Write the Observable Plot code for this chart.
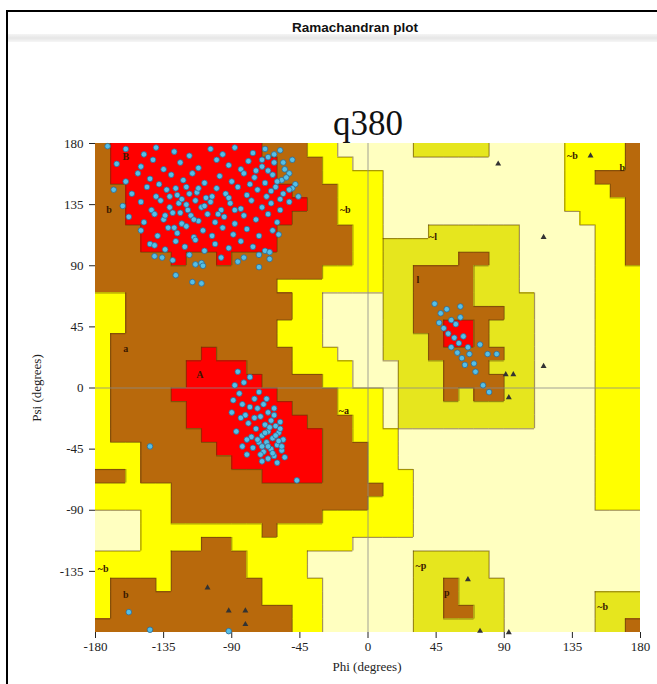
<!DOCTYPE html>
<html><head><meta charset="utf-8">
<script src="https://cdn.jsdelivr.net/npm/d3@7"></script>
<script src="https://cdn.jsdelivr.net/npm/@observablehq/plot@0.6"></script>
<style>
body{margin:0;background:#fff;}
#wrap{position:relative;width:657px;height:684px;overflow:hidden;font-family:"Liberation Serif","Times New Roman",serif;}
#wrap svg{position:absolute;left:0;top:0;}
.ln{position:absolute;background:#000;}
.band{position:absolute;left:8px;right:0;top:34px;height:8px;background:linear-gradient(#f4f4f4,#e6e6e6,#f6f6f6);}
.t{position:absolute;transform:translate(-50%,-50%);white-space:nowrap;}
</style></head>
<body><div id="wrap">
<div class="band"></div>
<div class="ln" style="left:6px;top:10px;width:2px;height:674px"></div>
<div class="ln" style="left:6px;top:10px;width:651px;height:2px"></div>
<div class="t" style="left:355px;top:27px;font:bold 13.5px 'Liberation Sans',Arial,sans-serif;color:#111">Ramachandran plot</div>
<div class="t" style="left:368px;top:124px;font-size:35px;color:#111">q380</div>
<div class="t" style="left:367px;top:667px;font-size:13px;color:#222">Phi (degrees)</div>
<div class="t" style="left:37px;top:388px;font-size:13px;color:#222;transform:translate(-50%,-50%) rotate(-90deg)">Psi (degrees)</div>
</div>
<script>
const phiTicks = [-180,-135,-90,-45,0,45,90,135,180];
const psiTicks = [-135,-90,-45,0,45,90,135,180];
const regionKeys = ["R","B","Y","G","L"];
const regionColors = ["#ff0000","#b8690c","#ffff00","#e6e61e","#ffffc0"];
// 36 rows (psi 180 -> -180), 36 columns (phi -180 -> 180), 10 degree cells
const regionRows = [
"BRRRRRRRRRRBBBYYLLLLLGGGGGLLLLLYYYYB",
"BRRRRRRRRRRRBBBYYLLLLLLLLLLLLLLYYYYB",
"BRRRRRRRRRRRBBBYYYYLLLLLLLLLLLLYYBBB",
"BBRRRRRRRRRRRBBBYYYLLLLLLLLLLLLYYYBB",
"BBRRRRRRRRRRRRBBYYYLLLLLLLLLLLLYYYYB",
"BBRRRRRRRRRRRBBBYYYLLLLLLLLLLLLLYYYB",
"BBBRRRRRRRRRBBBBBYYLLLGGGGGGLLLLLYYB",
"BBBRRRRRRRRRBBBBBYYGGGGGGGGGLLLLLYYB",
"BBBBBRBBRBBBBBBBBYYGGGGGBBGGLLLLLYYB",
"BBBBBBBBBBBBBBBYYYYGGBBBBGGGLLLLLYYY",
"BBBBBBBBBBBBYYYYYYYGGBBBBGGGLLLLLYYY",
"YYBBBBBBBBBBBYYLLLLGGBBBBGGGGLLLLYYY",
"YYBBBBBBBBBBBYYLLLLGGBBBBBBGGLLLLYYY",
"YYBBBBBBBBBBYYYLLLLGGBBRRBGGGLLLLYYY",
"YBBBBBBBBBBBYYYLLLLGGGBRRBGGGLLLLYYY",
"YBBBBBBRBBBBBYYYLLLGGGBBBBBGGLLLLYYY",
"YBBBBBRRRRBBBYYYYLLLGGGBBBGGGLLLLYYY",
"YBBBBBRRRRRBBBBYYLLLGGGBBBBGGLLLLYYY",
"YBBBBRRRRRRRBBBBYYYLGGGBGBBGGLLLLYYY",
"YBBBBBRRRRRRRBBBYYYLGGGGGGGGGLLLLYYY",
"YBBBBBRRRRRRRRBBBYYLGGGGGGGGGLLLLYYY",
"YBBBBBBRRRRRRRRBBYYYLLLLLLLLLLLLLYYY",
"YYYBBBBBRRRRRRRBBBYYLLLLLLLLLLLLLYYY",
"YYYBBBBBBRRRRRRBBBYYLLLLLLLLLLLLLYYY",
"BBYBBBBBBBBRRRRBBBYYYLLLLLLLLLLLLYYY",
"YYYYYBBBBBBBBBBBBBBYYLLLLLLLLLLLLYYY",
"YYYYYBBBBBBBBBBBBBYYYLLLLLLLLLLLLYYY",
"LLLYYBBBBBBBBBBYYYYYYLLLLLLLLLLLLLLL",
"LLLYYYYYYYYBYYYYYYYYYLLLLLLLLLLLLLLL",
"LLLYYYYBBYYYYYYYYLLLLLLLLLLLLLLLLLLL",
"YYYYYBBBBBYYYYLLLLLLLGGGGGLLLLLLLLLL",
"YYYYYBBBBBYYYYLLLLLLLGGGGGLLLLLLLLLL",
"YBBBYBBBBBBYYYYLLLLLLGGBGGGLLLLLLLLL",
"YBBBBBBBBBBYYYYLLLLLLGGBGGGLLLLLLGGG",
"YBBBBBBBBBBBBYYLLLLLLGGBBGGLLLLLLGGG",
"BBBBBBBBBBBBBYYLLLLLLGGGGGGLLLLLLGGB"
];
const regionLabels = [
 {phi:-160,psi:170,t:"B"},{phi:-171,psi:131,t:"b"},{phi:-15,psi:131,t:"~b"},
 {phi:43,psi:111,t:"~l"},{phi:33,psi:80,t:"l"},{phi:-160,psi:29,t:"a"},
 {phi:-111,psi:10,t:"A"},{phi:-16,psi:-17,t:"~a"},{phi:-175,psi:-133,t:"~b"},
 {phi:-160,psi:-152,t:"b"},{phi:35,psi:-131,t:"~p"},{phi:52,psi:-151,t:"p"},
 {phi:168,psi:162,t:"b"},{phi:135,psi:171,t:"~b"},{phi:155,psi:-161,t:"~b"}
];
const betaPts = [
[-172,178],[-160,176],[-148,172],[-140,177],[-128,174],[-118,171],[-104,176],[-96,172],[-88,177],[-76,173],[-66,170],[-58,175],
[-166,165],[-150,163],[-142,168],[-135,161],[-124,166],[-112,162],[-100,168],[-92,164],[-84,161],[-79,167],[-70,163],[-62,166],[-55,161],[-50,168],
[-160,152],[-152,158],[-144,154],[-138,150],[-130,157],[-122,153],[-116,158],[-108,151],[-98,156],[-90,152],[-82,158],[-75,155],[-68,151],[-63,157],[-57,153],[-52,158],[-48,150],
[-168,146],[-156,143],[-146,148],[-140,141],[-133,146],[-126,142],[-120,148],[-113,144],[-107,140],[-100,147],[-94,143],[-86,148],[-80,142],[-73,146],[-67,141],[-61,148],[-56,143],[-50,147],[-46,141],
[-162,134],[-150,137],[-143,131],[-137,138],[-131,133],[-125,136],[-119,131],[-114,138],[-110,133],[-104,137],[-97,131],[-91,136],[-84,132],[-77,138],[-70,133],[-64,136],[-58,131],[-52,137],
[-158,126],[-148,122],[-141,128],[-135,124],[-129,129],[-123,121],[-117,127],[-112,123],[-106,128],[-101,122],[-95,126],[-88,121],[-82,127],[-74,124],[-66,128],[-60,122],
[-150,116],[-139,112],[-132,118],[-126,114],[-120,119],[-115,111],[-109,116],[-103,112],[-96,118],[-89,113],[-80,117],[-72,112],[-63,116],
[-144,106],[-134,102],[-127,108],[-121,104],[-114,109],[-108,101],[-101,106],[-92,103],[-84,108],[-76,104],[-68,101],
[-141,97],[-129,94],[-118,98],[-110,92],[-97,96],[-86,93],[-72,98],[-65,95],
[-127,83],[-116,78],[-110,77],[-114,91],[-109,90],[-72,89],[-82,96],[-65,100],[-141,105],[-136,96],
[-131,141],[-127,147],[-123,139],[-118,143],[-112,147],[-108,134],[-103,141],[-99,128],[-92,140],[-88,131],[-115,124],[-120,135],[-124,129],[-128,118],[-134,127],
[-66,160],[-60,152],[-54,155],[-64,145],[-70,168],[-74,160],[-78,150],[-56,166],[-52,146],[-58,139],[-62,172],[-68,176]
];
const alphaPts = [
[-86,12],[-82,4],[-78,8],[-72,-3],[-89,-9],[-83,-12],[-69,-12],[-90,-18],[-79,-26],[-87,-32],[-83,-43],[-76,-44],[-80,-49],[-70,-54],[-75,-8],
[-73,-15],[-66,-18],[-71,-21],[-64,-24],[-68,-27],[-61,-28],[-74,-30],[-66,-32],[-59,-33],[-70,-35],[-63,-37],[-56,-38],[-67,-40],[-60,-42],[-72,-40],
[-64,-45],[-57,-46],[-69,-47],[-62,-50],[-55,-51],[-66,-52],[-60,-55],[-77,-36],[-81,-20],[-85,-4],[-62,-20],[-58,-25],[-65,-29],[-68,-33],[-61,-35],
[-73,-38],[-66,-43],[-59,-39],[-70,-43],[-63,-48],[-57,-43],[-75,-22],[-78,-14],[-67,-8],[-84,-22],[-80,-38],[-71,-49],[-58,-30],[-62,-15],[-88,2]
];
const leftPts = [
[44,62],[48,55],[52,58],[55,50],[58,47],[61,52],[50,44],[53,40],[57,37],[60,33],[63,38],[66,30],[55,30],[59,26],[62,22],[64,17],[67,25],[70,18],
[74,32],[79,25],[85,25],[71,12],[76,2],[80,-3],[61,60],[47,48]
];
const otherPts = [[-59,113],[-158,-165],[-144,-178],[-92,-179],[-144,-43],[-47,-68]];
const glyPts = [[86,165],[147,171],[116,111],[91,10],[96,10],[93,-7],[116,16],[66,-141],[74,-179],[93,-180],[-106,-147],[-92,-164],[-81,-164],[-81,-174]];

const STEP = 10;
const cells = regionRows.flatMap((row,j)=>Array.from(row,(k,i)=>({i,j,k})));
const vEdges = [], hEdges = [];
regionRows.forEach((row,j)=>{
  for(let i=0;i<row.length;i++){
    if(i<row.length-1 && row[i]!==row[i+1]) vEdges.push({x:-180+(i+1)*STEP,y1:180-j*STEP,y2:180-(j+1)*STEP});
    if(j<regionRows.length-1 && row[i]!==regionRows[j+1][i]) hEdges.push({y:180-(j+1)*STEP,x1:-180+i*STEP,x2:-180+(i+1)*STEP});
  }
});
const allPts = [...betaPts,...alphaPts,...leftPts,...otherPts];

const chart = Plot.plot({
  width:657, height:684, marginLeft:95, marginRight:17, marginTop:143, marginBottom:52,
  x:{domain:[-180,180], ticks:phiTicks, tickFormat:d=>String(d), tickSize:6, tickPadding:3, label:null},
  y:{domain:[-180,180], ticks:psiTicks, tickFormat:d=>String(d), tickSize:6, tickPadding:6, label:null},
  color:{domain:regionKeys, range:regionColors},
  style:{fontFamily:'"Liberation Serif","Times New Roman",serif', fontSize:"13px", background:"transparent", color:"#222"},
  marks:[
    Plot.rect(cells,{x1:d=>-180+d.i*STEP, x2:d=>-180+(d.i+1)*STEP, y1:d=>180-d.j*STEP, y2:d=>180-(d.j+1)*STEP, fill:"k", inset:0, shapeRendering:"crispEdges"}),
    Plot.ruleX(vEdges,{x:"x", y1:"y1", y2:"y2", stroke:"#5a3a08", strokeOpacity:0.55, strokeWidth:1.2}),
    Plot.ruleY(hEdges,{y:"y", x1:"x1", x2:"x2", stroke:"#5a3a08", strokeOpacity:0.55, strokeWidth:1.2}),
    Plot.ruleX([0],{stroke:"#8a8a8a", strokeOpacity:0.8}),
    Plot.ruleY([0],{stroke:"#8a8a8a", strokeOpacity:0.8}),
    Plot.text(regionLabels,{x:"phi", y:"psi", text:"t", fontSize:10, fontWeight:"bold", fill:"#3a1800"}),
    Plot.dot(glyPts,{x:d=>d[0], y:d=>d[1], symbol:"triangle", r:2.2, fill:"#333", stroke:"none"}),
    Plot.dot(allPts,{x:d=>d[0], y:d=>d[1], r:2.8, fill:"#55bfe6", stroke:"#2d6a96", strokeWidth:0.8})
  ]
});
document.getElementById("wrap").prepend(chart);
</script>
</body></html>
